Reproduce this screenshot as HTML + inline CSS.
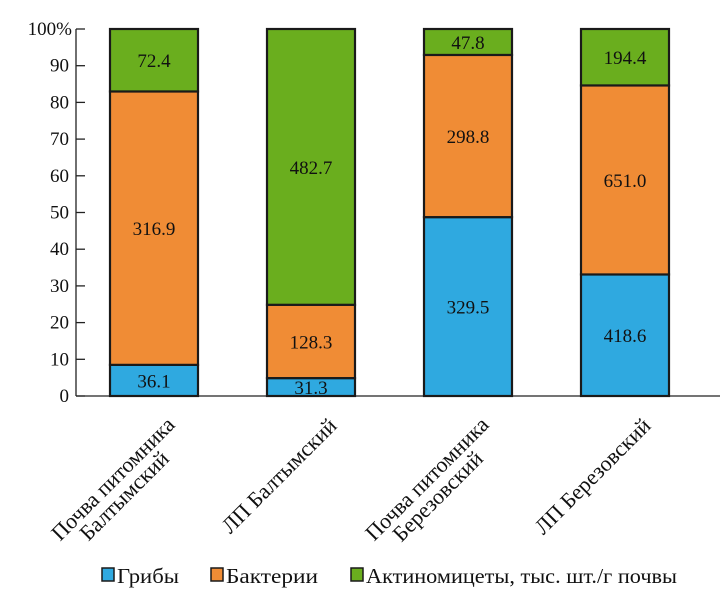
<!DOCTYPE html>
<html><head><meta charset="utf-8"><style>
body{margin:0;background:#fff}
svg text{font-family:"Liberation Serif",serif;fill:#111}
</style></head><body>
<svg width="720" height="597" id="chart">
</svg>
<script>
const categories=[["Почва питомника","Балтымский"],["ЛП Балтымский"],["Почва питомника","Березовский"],["ЛП Березовский"]];
const fungi=[36.1,31.3,329.5,418.6];
const bacteria=[316.9,128.3,298.8,651.0];
const actino=[72.4,482.7,47.8,194.4];
const yTicks=[0,10,20,30,40,50,60,70,80,90,100];
const seriesNames=["Грибы","Бактерии","Актиномицеты, тыс. шт./г почвы"];
const colors=["#2fa9e0","#f08c35","#6aae1e"];
const NS="http://www.w3.org/2000/svg";
const svg=document.getElementById('chart');
const y0=396,y1=29,axX=76;
const y=v=>y0-(v/100)*(y0-y1);
const barX=i=>110+i*157, barW=88;
function el(t,a,txt){const e=document.createElementNS(NS,t);for(const k in a)e.setAttribute(k,a[k]);if(txt!=null)e.textContent=txt;svg.appendChild(e);return e;}
const ax=el('line',{x1:axX,y1:y1,x2:axX,y2:y0,stroke:'#222','stroke-width':1.3});


const bx=el('line',{x1:axX,y1:y0,x2:720,y2:y0,stroke:'#222','stroke-width':1.3});


yTicks.forEach(t=>{
 const tk=el('line',{x1:axX,y1:y(t),x2:axX+9,y2:y(t),stroke:'#222','stroke-width':1.3});
 
 
 const lb=el('text',{x:t===100?72:69,y:y(t)+6,'text-anchor':'end','font-size':19},t===100?'100%':String(t));
 
 
});
const series=[fungi,bacteria,actino];
categories.forEach((c,i)=>{
 const tot=fungi[i]+bacteria[i]+actino[i];
 let cum=0;
 series.forEach((s,k)=>{
  const p=s[i]/tot*100;
  const top=y(cum+p),bot=y(cum);
  const r=el('rect',{x:barX(i),y:top,width:barW,height:bot-top,fill:colors[k],stroke:'#1a1a1a','stroke-width':2.2});
  
  
  const t=el('text',{x:barX(i)+barW/2,y:(top+bot)/2+7,'text-anchor':'middle','font-size':19},s[i].toFixed(1));
  
  
  cum+=p;
 });
 const two=c.length>1;
 const cx=barX(i)+barW/2+(two?22:27), cy=two?426:427;
 const g=document.createElementNS(NS,'text');
 g.setAttribute('transform',`translate(${cx},${cy}) rotate(-45)`);
 g.setAttribute('text-anchor','end');
 g.setAttribute('font-size','22');
 
 
 c.forEach((line,j)=>{const ts=document.createElementNS(NS,'tspan');ts.setAttribute('x',j===0?0:-28);ts.setAttribute('y',j*20);ts.textContent=line;g.appendChild(ts);});
 svg.appendChild(g);
});
const lx=[102,211,351];
const lw=[62,92,311];
seriesNames.forEach((n,k)=>{
 const r=el('rect',{x:lx[k],y:568,width:12,height:13,fill:colors[k],stroke:'#1a1a1a','stroke-width':1.5});
 
 
 const t=el('text',{x:lx[k]+15,y:583,'font-size':21,textLength:lw[k],lengthAdjust:'spacingAndGlyphs'},n);
 
 
});
</script>
</body></html>
